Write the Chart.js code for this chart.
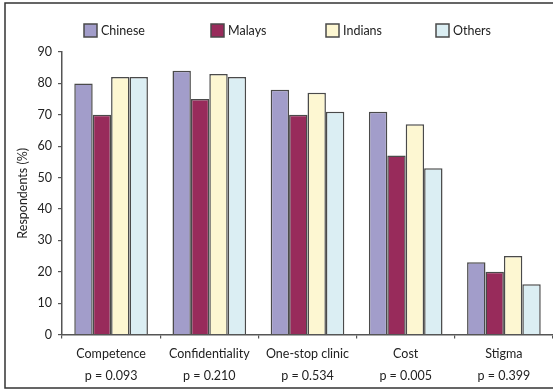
<!DOCTYPE html>
<html>
<head>
<meta charset="utf-8">
<script src="https://cdn.jsdelivr.net/npm/chart.js@4.4.1/dist/chart.umd.min.js"></script>
<style>
    html, body { margin: 0; padding: 0; background: #fff; }
    #wrap { width: 553px; height: 389px; position: relative; }
</style>
</head>
<body>
<div id="wrap"><canvas id="prefChart" width="553" height="389"></canvas></div>
<script>
const categories = ['Competence', 'Confidentiality', 'One-stop clinic', 'Cost', 'Stigma'];
const pValues = ['p = 0.093', 'p = 0.210', 'p = 0.534', 'p = 0.005', 'p = 0.399'];
const groups = ['Chinese', 'Malays', 'Indians', 'Others'];
const chinese = [80, 84, 78, 71, 23];
const malays = [70, 75, 70, 57, 20];
const indians = [82, 83, 77, 67, 25];
const others = [82, 82, 71, 53, 16];
const yTicks = [0, 10, 20, 30, 40, 50, 60, 70, 80, 90];

const fills = ['#a29dca', '#982b5b', '#fdf7d2', '#dbeef3'];
const edge = '#4a4a4a';
const font = 'Lato, "Open Sans", sans-serif';

// thin frame round the whole figure, right side runs off the canvas
const framePlugin = {
    id: 'frame',
    afterDraw(chart) {
        const ctx = chart.ctx;
        ctx.save();
        ctx.strokeStyle = '#333';
        ctx.lineWidth = 1.5;
        ctx.strokeRect(5, 3, 600, 385);
        ctx.restore();
    }
};

// legend row above the plot, spread wider than the built-in legend allows
const legendX = [84, 211, 326, 436];
const legendRow = {
    id: 'legendRow',
    afterDraw(chart) {
        const ctx = chart.ctx;
        ctx.save();
        ctx.font = '12.5px ' + font;
        ctx.textBaseline = 'middle';
        const y = 24;
        chart.data.datasets.forEach((ds, i) => {
            const x = legendX[i];
            ctx.fillStyle = ds.backgroundColor;
            ctx.fillRect(x, y, 13, 13);
            ctx.strokeStyle = edge;
            ctx.lineWidth = 1.5;
            ctx.strokeRect(x, y, 13, 13);
            ctx.fillStyle = '#222';
            ctx.fillText(ds.label, x + 17, y + 7);
        });
        ctx.restore();
    }
};

const seriesData = [chinese, malays, indians, others];

new Chart(document.getElementById('prefChart'), {
    type: 'bar',
    data: {
        labels: categories.map((c, i) => [c, pValues[i]]),
        datasets: groups.map((g, i) => ({
            label: g,
            data: seriesData[i],
            backgroundColor: fills[i],
            borderColor: edge,
            borderWidth: 1.5,
            categoryPercentage: 0.75,
            barPercentage: 1.0
        }))
    },
    options: {
        responsive: false,
        animation: false,
        layout: { padding: { left: 13, right: 0, top: 52, bottom: 0.5 } },
        plugins: {
            tooltip: { enabled: false },
            legend: { display: false }
        },
        scales: {
            x: {
                afterFit(scale) {
                    scale.height = 54;
                },
                grid: { drawOnChartArea: false, tickLength: 4, color: '#555', lineWidth: 1.2 },
                border: { color: '#555', width: 1.5 },
                ticks: {
                    color: '#222',
                    padding: 4,
                    maxRotation: 0,
                    font: { family: font, size: 12.5, lineHeight: 1.8 }
                }
            },
            y: {
                min: 0,
                max: 90,
                afterBuildTicks(scale) {
                    scale.ticks = yTicks.map(v => ({ value: v }));
                },
                afterFit(scale) {
                    scale.width = 49;
                },
                grid: { drawOnChartArea: false, tickLength: 4, color: '#555', lineWidth: 1.2 },
                border: { color: '#555', width: 1.5 },
                title: {
                    display: true,
                    text: 'Respondents (%)',
                    color: '#222',
                    padding: 2,
                    font: { family: font, size: 12.5 }
                },
                ticks: {
                    color: '#222',
                    padding: 6,
                    autoSkip: false,
                    font: { family: font, size: 12.5 }
                }
            }
        }
    },
    plugins: [framePlugin, legendRow]
});
</script>
</body>
</html>
